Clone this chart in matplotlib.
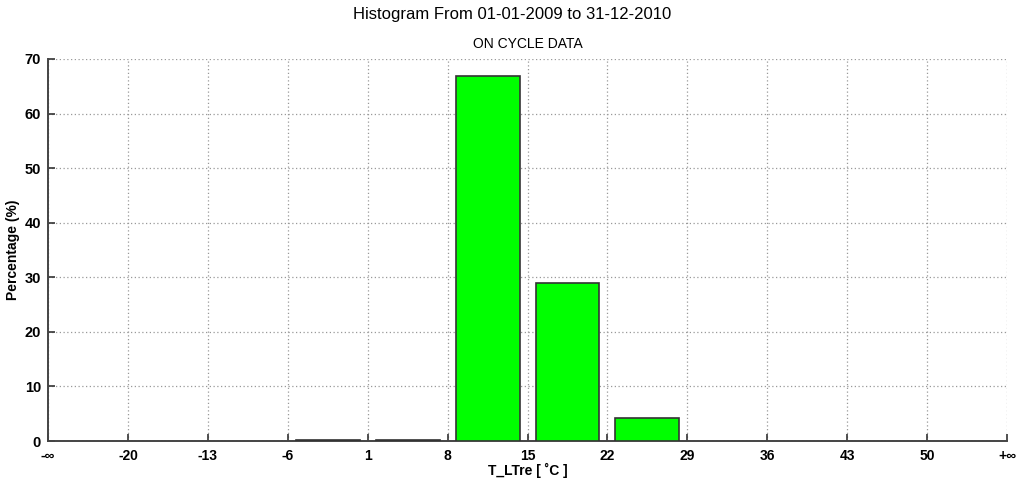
import matplotlib
matplotlib.use("Agg")
import matplotlib.pyplot as plt
import numpy as np

plt.rcParams["font.family"] = ["Liberation Sans", "DejaVu Sans"]

# bin edges shown as tick labels, and percentage per bin
edge_labels = ["-\u221e", "-20", "-13", "-6", "1", "8", "15", "22", "29",
               "36", "43", "50", "+\u221e"]
percent = [0.0, 0.0, 0.0, 0.1, 0.1, 66.9, 29.0, 4.2, 0.0, 0.0, 0.0, 0.0]

fig = plt.figure(figsize=(10.24, 4.88), dpi=100)
ax = fig.add_axes([0.0469, 0.0963, 0.9365, 0.7828])

centers = np.arange(len(percent)) + 0.5
vals = np.array(percent)
mask = vals > 0
ax.bar(centers[mask], vals[mask], width=0.8, color="#00ff00",
       edgecolor="#333333", linewidth=1.2, zorder=3)

ax.set_xlim(0, len(edge_labels) - 1)
ax.set_ylim(0, 70)
ax.set_xticks(np.arange(len(edge_labels)))
ax.set_xticklabels(edge_labels, fontsize=10, fontweight="bold")
ax.set_yticks(np.arange(0, 71, 10))
ax.tick_params(axis="y", labelsize=10.5, direction="in", length=5, width=1.2,
               colors="#333333", labelcolor="black", pad=5)
ax.tick_params(axis="x", direction="in", length=5, width=1.2,
               colors="#333333", labelcolor="black", pad=6)
for lbl in ax.get_yticklabels():
    lbl.set_fontweight("bold")

ax.grid(True, linestyle=(0, (1, 2)), color="#999999", linewidth=0.9, zorder=0)
ax.spines["top"].set_visible(False)
ax.spines["right"].set_visible(False)
for s in ["left", "bottom"]:
    ax.spines[s].set_color("#444444")
    ax.spines[s].set_linewidth(1.4)

ax.set_xlabel("T_LTre [ \u02daC ]", fontsize=10, fontweight="bold", labelpad=0)
ax.set_ylabel("Percentage (%)", fontsize=10, fontweight="bold", labelpad=3)
ax.set_title("ON CYCLE DATA", fontsize=10, pad=8)
fig.suptitle("Histogram From 01-01-2009 to 31-12-2010", fontsize=12, y=0.985)

fig.savefig("out.png", dpi=100)
plt.close(fig)
